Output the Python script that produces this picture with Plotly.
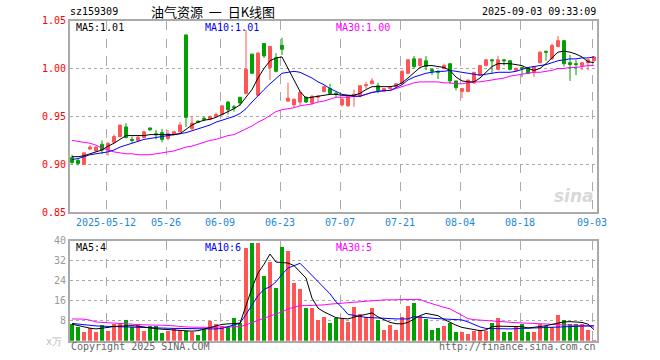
import plotly.graph_objects as go

# ---------------- data ----------------
dates = ["04-29","04-30","05-06","05-07","05-08","05-09","05-12","05-13","05-14","05-15",
         "05-16","05-19","05-20","05-21","05-22","05-23","05-26","05-27","05-28","05-29",
         "05-30","06-03","06-04","06-05","06-06","06-09","06-10","06-11","06-12","06-13",
         "06-16","06-17","06-18","06-19","06-20","06-23","06-24","06-25","06-26","06-27",
         "06-30","07-01","07-02","07-03","07-04","07-07","07-08","07-09","07-10","07-11",
         "07-14","07-15","07-16","07-17","07-18","07-21","07-22","07-23","07-24","07-25",
         "07-28","07-29","07-30","07-31","08-01","08-04","08-05","08-06","08-07","08-08",
         "08-11","08-12","08-13","08-14","08-15","08-18","08-19","08-20","08-21","08-22",
         "08-25","08-26","08-27","08-28","08-29","09-01","09-02","09-03"]

open_ = [0.907,0.904,0.900,0.916,0.914,0.921,0.915,0.923,0.929,0.939,
         0.926,0.925,0.928,0.938,0.932,0.933,0.927,0.931,0.934,1.035,
         0.937,0.945,0.948,0.947,0.950,0.952,0.965,0.960,0.970,0.974,
         1.015,0.972,1.026,1.001,1.011,1.024,0.966,0.962,0.965,0.970,
         0.964,0.970,0.976,0.979,0.974,0.962,0.961,0.971,0.971,0.982,
         0.984,0.982,0.976,0.979,0.981,0.984,0.995,1.010,1.003,1.008,
         0.999,0.997,1.000,1.005,0.987,0.976,0.976,0.985,0.993,1.003,
         1.009,0.999,1.009,1.008,0.998,1.001,1.000,0.996,1.006,1.018,
         1.010,1.023,1.029,1.006,1.005,1.003,1.006,1.008]
close = [0.902,0.901,0.912,0.918,0.918,0.915,0.922,0.929,0.941,0.928,
         0.925,0.928,0.934,0.936,0.931,0.926,0.932,0.934,0.941,0.949,
         0.943,0.944,0.947,0.950,0.952,0.961,0.957,0.959,0.964,0.999,
         0.995,1.016,1.013,1.023,0.997,1.020,0.969,0.968,0.975,0.965,
         0.971,0.971,0.981,0.974,0.973,0.968,0.971,0.973,0.982,0.983,
         0.987,0.977,0.979,0.980,0.984,0.997,1.009,1.002,1.010,1.002,
         0.997,0.996,1.003,0.987,0.980,0.979,0.988,0.996,1.003,1.009,
         1.008,1.009,1.008,0.999,1.000,1.000,0.995,1.002,1.017,1.017,
         1.024,1.029,1.005,1.004,1.004,1.006,1.009,1.012]
high = [0.910,0.906,0.912,0.920,0.919,0.925,0.923,0.931,0.941,0.943,
        0.929,0.930,0.935,0.938,0.936,0.937,0.936,0.935,0.944,1.035,
        0.950,0.946,0.950,0.951,0.954,0.961,0.966,0.962,0.970,1.040,
        1.015,1.017,1.026,1.023,1.016,1.032,0.985,0.968,0.977,0.971,
        0.972,0.972,0.982,0.984,0.976,0.969,0.972,0.978,0.982,0.986,
        0.990,0.985,0.979,0.981,0.985,0.998,1.010,1.013,1.010,1.013,
        1.000,0.998,1.005,1.005,0.987,0.979,0.988,0.996,1.003,1.010,
        1.010,1.013,1.010,1.009,1.001,1.002,1.001,1.002,1.018,1.018,
        1.026,1.034,1.029,1.014,1.009,1.006,1.010,1.013]
low = [0.900,0.899,0.900,0.915,0.913,0.911,0.909,0.922,0.928,0.927,
       0.922,0.924,0.927,0.935,0.926,0.923,0.925,0.930,0.933,0.939,
       0.936,0.943,0.945,0.946,0.950,0.951,0.952,0.955,0.961,0.973,
       0.994,0.971,1.011,0.988,0.996,1.014,0.965,0.959,0.961,0.964,
       0.962,0.965,0.975,0.973,0.970,0.960,0.960,0.960,0.970,0.979,
       0.984,0.974,0.975,0.978,0.980,0.983,0.994,1.000,1.002,0.998,
       0.993,0.989,0.999,0.984,0.977,0.969,0.975,0.984,0.993,1.002,
       0.995,0.998,1.003,0.998,0.997,0.991,0.994,0.991,1.005,1.008,
       1.009,1.022,1.002,0.987,0.993,0.998,0.998,1.007]

ma5 = [0.908,0.908,0.909,0.911,0.913,0.915,0.919,0.922,0.926,0.930,
       0.930,0.930,0.930,0.931,0.931,0.931,0.931,0.931,0.932,0.937,
       0.941,0.944,0.946,0.947,0.949,0.952,0.955,0.958,0.962,0.970,
       0.978,0.990,1.000,1.008,1.011,1.012,1.000,0.987,0.976,0.969,
       0.970,0.971,0.972,0.973,0.973,0.972,0.972,0.972,0.974,0.978,
       0.981,0.981,0.981,0.981,0.982,0.985,0.990,0.996,1.001,1.003,
       1.003,1.002,1.001,0.998,0.991,0.987,0.986,0.986,0.990,0.996,
       1.002,1.005,1.005,1.005,1.004,1.003,1.000,0.998,1.000,1.005,
       1.011,1.017,1.018,1.017,1.015,1.012,1.007,1.006]
ma10 = [0.905,0.906,0.908,0.910,0.911,0.912,0.913,0.915,0.918,0.920,
        0.922,0.924,0.926,0.927,0.928,0.929,0.930,0.931,0.932,0.933,
        0.935,0.937,0.939,0.941,0.944,0.946,0.948,0.950,0.953,0.958,
        0.965,0.972,0.978,0.984,0.990,0.995,0.996,0.997,0.996,0.993,
        0.990,0.986,0.983,0.979,0.976,0.973,0.972,0.971,0.971,0.973,
        0.975,0.976,0.977,0.977,0.980,0.983,0.988,0.991,0.993,0.995,
        0.996,0.997,0.997,0.998,0.997,0.996,0.995,0.994,0.993,0.994,
        0.995,0.996,0.996,0.996,0.997,0.999,1.001,1.002,1.003,1.004,
        1.006,1.008,1.009,1.010,1.010,1.011,1.011,1.012]
ma30 = [0.925,0.924,0.923,0.922,0.920,0.917,0.915,0.913,0.912,0.911,
        0.911,0.910,0.910,0.910,0.911,0.912,0.913,0.914,0.916,0.918,
        0.919,0.921,0.923,0.925,0.926,0.928,0.930,0.931,0.934,0.937,
        0.940,0.944,0.947,0.951,0.955,0.957,0.958,0.959,0.961,0.962,
        0.963,0.965,0.966,0.968,0.970,0.970,0.970,0.971,0.971,0.973,
        0.975,0.976,0.977,0.977,0.979,0.981,0.983,0.985,0.986,0.986,
        0.986,0.986,0.985,0.985,0.984,0.984,0.985,0.986,0.986,0.987,
        0.988,0.989,0.990,0.992,0.993,0.994,0.995,0.996,0.996,0.997,
        0.998,1.000,1.000,1.001,1.001,1.002,1.003,1.003]

volume = [6.9,5.6,3.6,5.3,3.6,6.4,4.0,6.9,6.7,8.4,
          5.6,6.7,4.0,6.0,6.0,3.2,4.0,4.7,4.3,4.0,
          3.6,2.5,4.9,8.0,6.9,5.9,5.6,9.3,7.3,37.4,
          39.3,39.3,26.2,31.8,21.1,37.8,36.2,23.1,20.7,13.3,
          13.3,8.5,9.7,7.3,9.3,8.7,7.7,13.6,10.7,9.6,
          13.1,8.4,4.4,6.4,4.4,9.6,14.0,15.2,10.0,8.9,
          4.4,5.2,6.0,7.1,3.6,3.6,2.8,4.0,4.4,4.0,
          7.3,9.2,3.6,3.6,5.6,6.8,3.6,3.6,6.7,6.0,
          5.6,10.4,8.4,6.7,6.7,6.7,4.4,0.4]
vma5 = [6.6,6.0,5.5,5.0,4.7,4.9,5.3,5.7,5.9,6.0,
        6.0,5.8,5.4,5.0,4.8,4.6,4.4,4.2,4.0,3.9,
        3.8,4.0,4.6,5.2,5.8,6.5,6.7,6.8,7.0,14.0,
        21.0,27.0,30.5,34.6,31.4,31.2,31.0,30.0,27.5,25.0,
        17.0,13.0,11.5,10.5,9.2,8.9,8.7,9.4,10.0,10.6,
        11.1,9.5,8.3,7.3,6.8,6.7,7.3,8.6,10.0,10.9,
        10.5,10.0,8.5,7.3,6.2,5.3,4.8,4.4,4.0,4.3,
        5.6,5.8,5.7,5.6,5.6,5.6,5.1,5.2,5.6,6.0,
        6.5,7.0,7.5,7.6,7.6,7.3,6.6,4.4]
vma10 = [6.9,6.6,6.2,6.0,5.9,5.8,5.7,5.6,5.6,5.6,
         5.5,5.5,5.4,5.3,5.2,5.1,5.0,4.9,4.9,4.8,
         4.7,4.7,4.7,4.7,4.7,4.9,5.6,6.3,7.0,10.5,
         14.5,18.0,20.5,21.5,23.5,26.5,29.0,30.0,30.9,28.5,
         26.0,23.5,21.0,18.7,15.5,13.3,10.5,10.0,9.6,9.3,
         9.2,9.0,8.8,8.7,8.7,8.7,8.7,9.6,9.5,9.3,
         9.0,8.8,8.6,8.4,8.4,8.3,7.5,6.4,5.5,4.9,
         4.8,4.7,4.7,4.7,4.8,4.9,5.0,5.1,5.3,5.4,
         5.5,5.6,5.7,5.7,5.8,6.0,6.0,6.0]
vma30 = [8.7,8.7,8.6,8.2,7.5,7.3,7.2,7.1,7.0,6.8,
         6.6,6.4,6.4,6.3,6.3,6.3,6.1,5.9,5.6,5.5,
         5.4,5.3,5.3,5.3,5.4,5.5,5.5,5.6,5.6,6.3,
         7.3,8.2,9.0,9.8,10.5,11.5,12.7,13.4,14.0,14.0,
         14.0,14.1,14.3,14.6,14.8,15.0,15.2,15.3,15.4,15.6,
         16.0,16.3,16.3,16.3,16.3,16.4,16.4,16.5,16.5,15.5,
         14.7,14.0,13.3,12.7,11.5,10.0,8.8,8.4,8.2,7.9,
         7.7,7.6,7.5,7.3,7.2,7.1,7.0,6.8,6.7,6.6,
         6.5,6.4,6.3,6.3,6.2,6.1,5.9,5.4]

tick_dates = ["05-12", "05-26", "06-09", "06-23", "07-07", "07-21", "08-04", "08-18", "09-03"]
tick_texts = ["2025-05-12", "05-26", "06-09", "06-23", "07-07", "07-21", "08-04", "08-18", "09-03"]
price_ticks = [0.85, 0.90, 0.95, 1.00, 1.05]
vol_ticks = [8, 16, 24, 32, 40]

# ---------------- figure ----------------
RED = "#ff5555"
GREEN = "#00a000"
W, H = 660, 360
x = list(range(len(dates)))
tickpos = [dates.index(d) - 1/3 for d in tick_dates]
vcolors = [RED if c >= o else GREEN for o, c in zip(open_, close)]

def px(v):
    return v / W

def py(v):
    return 1 - v / H

fig = go.Figure()
fig.add_trace(go.Candlestick(
    x=x, open=open_, high=high, low=low, close=close,
    increasing=dict(line=dict(color=RED, width=1), fillcolor=RED),
    decreasing=dict(line=dict(color=GREEN, width=1), fillcolor=GREEN),
    whiskerwidth=0, xaxis="x", yaxis="y", showlegend=False, hoverinfo="skip"))
for arr, col in [(ma30, "#ff00ff"), (ma10, "#0000ff"), (ma5, "#000000")]:
    fig.add_trace(go.Scatter(x=x, y=arr, mode="lines", line=dict(color=col, width=1),
                             xaxis="x", yaxis="y", showlegend=False, hoverinfo="skip"))
fig.add_trace(go.Bar(x=x, y=volume, marker=dict(color=vcolors, line=dict(width=0)),
                     width=0.8, xaxis="x2", yaxis="y2", showlegend=False, hoverinfo="skip"))
for arr, col in [(vma30, "#ff00ff"), (vma10, "#0000ff"), (vma5, "#000000")]:
    fig.add_trace(go.Scatter(x=x, y=arr, mode="lines", line=dict(color=col, width=1),
                             xaxis="x2", yaxis="y2", showlegend=False, hoverinfo="skip"))

mono = "DejaVu Sans Mono"
xdom = [px(70), px(597)]
xr = [-1/3, len(dates) - 0.5]
fig.update_layout(
    width=W, height=H, margin=dict(l=0, r=0, t=0, b=0, autoexpand=False),
    paper_bgcolor="white", plot_bgcolor="white", bargap=0,
    font=dict(family=mono, size=10, color="#000"),
    xaxis=dict(domain=xdom, range=xr, anchor="y", tickvals=tickpos, ticktext=tick_texts,
               tickfont=dict(family=mono, size=10, color="#1e88d6"), ticks="", ticklen=0,
               showgrid=True, gridcolor="#aaaaaa", griddash="dash", gridwidth=1,
               showline=True, mirror=True, linecolor="#aaaaaa", linewidth=2,
               rangeslider=dict(visible=False), zeroline=False),
    yaxis=dict(domain=[py(212.3), py(20.5)], range=[0.85, 1.05], anchor="x",
               tickvals=price_ticks, ticktext=[f"{v:.2f}" for v in price_ticks],
               tickfont=dict(family=mono, size=10, color="#ff0000"), ticks="",
               showgrid=True, gridcolor="#aaaaaa", griddash="dot", gridwidth=1,
               showline=True, mirror=True, linecolor="#aaaaaa", linewidth=2, zeroline=False),
    xaxis2=dict(domain=xdom, range=xr, anchor="y2", tickvals=tickpos, showticklabels=False,
                ticks="", showgrid=True, gridcolor="#aaaaaa", griddash="dash", gridwidth=1,
                showline=True, mirror=True, linecolor="#aaaaaa", linewidth=2, zeroline=False),
    yaxis2=dict(domain=[py(340.7), py(240.5)], range=[0, 40], anchor="x2",
                tickvals=vol_ticks, ticktext=[str(v) for v in vol_ticks],
                tickfont=dict(family=mono, size=10, color="#999999"), ticks="",
                showgrid=True, gridcolor="#aaaaaa", griddash="dot", gridwidth=1,
                showline=True, mirror=True, linecolor="#aaaaaa", linewidth=2, zeroline=False),
)

def ann(text, x0, y0, color="#000", size=10, xanchor="left", family=mono, **kw):
    fig.add_annotation(text=text, x=px(x0), y=py(y0), xref="paper", yref="paper",
                       xanchor=xanchor, yanchor="middle", showarrow=False,
                       font=dict(family=family, size=size, color=color), **kw)

ann("sz159309", 68, 12)
ann("油气资源\u00a0\u00a0一\u00a0\u00a0日K线图", 213, 12, size=13, xanchor="center",
    family="Noto Sans CJK SC")
ann("2025-09-03 09:33:09", 598, 12, xanchor="right")
ann(f"MA5:{ma5[-1]:.2f}", 74, 28)
ann(f"MA10:{ma10[-1]:.2f}", 203, 28, color="#0000ff")
ann(f"MA30:{ma30[-1]:.2f}", 334, 28, color="#ff00ff")
ann(f"MA5:{vma5[-1]:.0f}", 74, 247)
ann(f"MA10:{vma10[-1]:.0f}", 203, 247, color="#0000ff")
ann(f"MA30:{vma30[-1]:.0f}", 334, 247, color="#ff00ff")
ann("x万", 64, 341, color="#bbbbbb", xanchor="right")
ann("Copyright 2025 SINA.COM", 69, 346, color="#666666")
ann("http://finance.sina.com.cn", 598, 346, color="#666666", xanchor="right")
ann("<b><i>sina</i></b>", 596, 196, color="#d8d8d8", size=17, xanchor="right", family="DejaVu Sans")

fig.write_html("out.html", config={"displayModeBar": False},
               post_script="document.body.style.margin='0';document.body.style.padding='0';")
